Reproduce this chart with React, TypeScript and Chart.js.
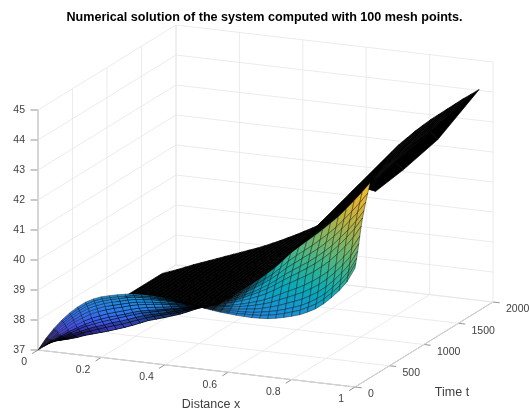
import React, { useEffect, useRef } from "react";
import { Chart, registerables, ScatterController } from "chart.js";

const titleText = "Numerical solution of the system computed with 100 mesh points.";
const xLabel = "Distance x";
const tLabel = "Time t";
const xTicks = [0, 0.2, 0.4, 0.6, 0.8, 1];
const tTicks = [0, 500, 1000, 1500, 2000];
const zTicks = [37, 38, 39, 40, 41, 42, 43, 44, 45];

const xMesh = [0,0.025,0.05,0.075,0.1,0.125,0.15,0.175,0.2,0.225,0.25,0.275,0.3,0.325,0.35,0.375,0.4,0.425,0.45,0.475,0.5,0.525,0.55,0.575,0.6,0.625,0.65,0.675,0.7,0.725,0.75,0.775,0.8,0.825,0.85,0.875,0.9,0.925,0.95,0.975,1];
const tMesh = [0,12,25,40,55,70,90,110,130,155,185,220,300,700,1200,1800];
const zRows = [
[37,37.42,37.78,38.09,38.36,38.59,38.78,38.92,39.02,39.09,39.15,39.2,39.24,39.25,39.26,39.25,39.23,39.2,39.17,39.14,39.09,39.04,39,38.97,38.95,38.93,38.92,38.91,38.92,38.94,38.98,39.04,39.11,39.19,39.31,39.45,39.64,39.88,40.15,40.48,40.96],
[37,37.40,37.74,38.04,38.30,38.52,38.70,38.84,38.94,39.01,39.07,39.12,39.17,39.18,39.20,39.19,39.18,39.16,39.14,39.11,39.07,39.03,39.01,38.99,38.98,38.97,38.98,38.98,39.00,39.04,39.09,39.16,39.24,39.33,39.46,39.60,39.80,40.04,40.31,40.64,41.11],
[37,37.38,37.70,37.98,38.23,38.44,38.62,38.75,38.85,38.93,38.99,39.05,39.10,39.11,39.13,39.13,39.13,39.11,39.10,39.09,39.06,39.03,39.01,39.01,39.01,39.02,39.03,39.05,39.09,39.14,39.20,39.28,39.37,39.47,39.60,39.76,39.95,40.20,40.47,40.80,41.26],
[37,37.35,37.65,37.91,38.15,38.35,38.52,38.64,38.74,38.82,38.88,38.95,39.00,39.02,39.05,39.06,39.06,39.06,39.06,39.05,39.04,39.02,39.02,39.03,39.05,39.07,39.11,39.14,39.20,39.27,39.35,39.45,39.55,39.66,39.80,39.96,40.16,40.41,40.69,41.02,41.47],
[37,37.31,37.59,37.83,38.05,38.24,38.40,38.52,38.62,38.69,38.76,38.83,38.89,38.92,38.95,38.97,38.98,38.99,39.01,39.02,39.01,39.01,39.03,39.06,39.10,39.14,39.19,39.25,39.32,39.41,39.52,39.63,39.75,39.87,40.02,40.19,40.40,40.65,40.93,41.26,41.70],
[37,37.28,37.53,37.75,37.96,38.13,38.28,38.40,38.49,38.57,38.64,38.72,38.78,38.82,38.86,38.89,38.91,38.93,38.96,38.98,38.99,39.01,39.04,39.08,39.14,39.20,39.27,39.35,39.44,39.56,39.69,39.82,39.94,40.08,40.24,40.42,40.63,40.89,41.18,41.50,41.93],
[37,37.24,37.45,37.65,37.83,37.99,38.12,38.23,38.33,38.41,38.49,38.57,38.64,38.69,38.73,38.77,38.81,38.85,38.89,38.93,38.96,39.00,39.05,39.12,39.20,39.29,39.39,39.49,39.61,39.76,39.92,40.06,40.21,40.36,40.53,40.73,40.95,41.22,41.50,41.83,42.23],
[37,37.20,37.38,37.56,37.72,37.86,37.99,38.09,38.19,38.27,38.35,38.44,38.52,38.57,38.62,38.67,38.72,38.77,38.83,38.88,38.93,38.99,39.06,39.15,39.25,39.36,39.48,39.61,39.75,39.92,40.10,40.26,40.42,40.59,40.77,40.98,41.21,41.48,41.77,42.09,42.48],
[37,37.17,37.33,37.48,37.64,37.77,37.88,37.98,38.07,38.16,38.25,38.34,38.42,38.48,38.54,38.60,38.65,38.72,38.79,38.85,38.91,38.98,39.07,39.17,39.29,39.42,39.55,39.70,39.86,40.05,40.25,40.43,40.60,40.77,40.97,41.18,41.41,41.70,41.99,42.31,42.69],
[37,37.13,37.27,37.40,37.53,37.65,37.75,37.84,37.94,38.02,38.11,38.21,38.30,38.37,38.43,38.50,38.57,38.65,38.73,38.80,38.88,38.97,39.08,39.20,39.34,39.49,39.65,39.81,40.00,40.21,40.44,40.63,40.82,41.01,41.21,41.44,41.68,41.96,42.26,42.58,42.94],
[37,37.09,37.20,37.31,37.43,37.53,37.62,37.71,37.80,37.88,37.98,38.08,38.18,38.26,38.33,38.41,38.48,38.58,38.68,38.76,38.85,38.96,39.09,39.23,39.39,39.56,39.74,39.93,40.13,40.37,40.63,40.84,41.04,41.24,41.46,41.69,41.94,42.23,42.53,42.85,43.20],
[37,37.05,37.12,37.20,37.30,37.38,37.46,37.54,37.63,37.72,37.82,37.93,38.04,38.12,38.20,38.29,38.38,38.49,38.61,38.71,38.82,38.95,39.10,39.27,39.45,39.65,39.85,40.07,40.30,40.57,40.85,41.08,41.30,41.52,41.75,42.00,42.25,42.55,42.85,43.17,43.50],
[37,37.05,37.12,37.21,37.31,37.39,37.47,37.55,37.64,37.73,37.83,37.94,38.05,38.13,38.21,38.30,38.40,38.51,38.63,38.73,38.84,38.97,39.13,39.30,39.48,39.69,39.89,40.12,40.36,40.64,40.92,41.15,41.37,41.59,41.82,42.07,42.32,42.61,42.91,43.15,43.10],
[37,37.07,37.14,37.23,37.34,37.42,37.51,37.59,37.69,37.78,37.88,37.99,38.09,38.18,38.28,38.37,38.48,38.59,38.72,38.83,38.95,39.10,39.27,39.45,39.65,39.87,40.09,40.38,40.68,41.00,41.27,41.51,41.74,41.96,42.19,42.42,42.66,42.93,43.20,43.47,43.25],
[37,37.08,37.17,37.27,37.37,37.47,37.56,37.65,37.75,37.84,37.94,38.05,38.15,38.25,38.36,38.46,38.58,38.70,38.83,38.96,39.10,39.26,39.44,39.64,39.85,40.10,40.35,40.71,41.08,41.43,41.72,41.96,42.20,42.43,42.65,42.87,43.09,43.33,43.56,43.80,43.55],
[37,37.10,37.20,37.31,37.42,37.52,37.62,37.72,37.82,37.92,38.02,38.12,38.22,38.33,38.45,38.57,38.70,38.83,38.97,39.11,39.27,39.45,39.65,39.87,40.10,40.37,40.65,41.10,41.55,41.95,42.25,42.50,42.75,42.98,43.20,43.40,43.60,43.80,44.00,44.18,44.37],
];

// Box corners (screen units), used as an affine 3D view.
const originPx = [38, 350];
const xAxisPx = [317, 37];
const tAxisPx = [138, -85];
const zUnitPx = 30;
const project = (x: number, t: number, z: number) => ({
  x: originPx[0] + x * xAxisPx[0] + (t / 2000) * tAxisPx[0],
  y: originPx[1] + x * xAxisPx[1] + (t / 2000) * tAxisPx[1] - (z - 37) * zUnitPx,
});
const depth = (x: number, t: number, z: number) => 0.383 * x - 0.884 * (t / 2000) + 0.0241 * (z - 37);

const parula = [[62,38,168],[72,82,244],[46,130,250],[24,155,226],[8,178,194],[54,190,150],[125,192,110],[190,187,70],[240,190,50],[252,215,40],[249,251,21]];
const colorAt = (v: number) => {
  const c = Math.min(0.9999, Math.max(0, v)) * (parula.length - 1);
  const i = Math.floor(c), f = c - i;
  return parula[i].map((a, k) => a + (parula[i + 1][k] - a) * f);
};

class PolygonController extends ScatterController {
  static id = "polygon";
  static defaults = ScatterController.defaults;
  draw() {
    const pts: any[] = this.getMeta().data as any;
    const ds: any = this.getDataset();
    const ctx = this.chart.ctx;
    ctx.save();
    ctx.beginPath();
    pts.forEach((p, i) => (i ? ctx.lineTo(p.x, p.y) : ctx.moveTo(p.x, p.y)));
    ctx.closePath();
    ctx.fillStyle = ds.faceColor;
    ctx.fill();
    ctx.strokeStyle = ds.edgeColor;
    ctx.lineWidth = 0.7;
    ctx.stroke();
    ctx.restore();
  }
}
Chart.register(...registerables, PolygonController);

const lastColouredRow = 10; // later rows of the real mesh are so dense that they print solid black

function surfaceDatasets() {
  const cells: any[] = [];
  for (let r = 0; r < tMesh.length - 1; r++) {
    for (let c = 0; c < xMesh.length - 1; c++) {
      const corners = [[r, c], [r, c + 1], [r + 1, c + 1], [r + 1, c]].map(([a, b]) => [xMesh[b], tMesh[a], zRows[a][b]]);
      const data = corners.map(([x, t, z]) => project(x, t, z));
      let area = 0;
      data.forEach((p, i) => { const q = data[(i + 1) % 4]; area += p.x * q.y - q.x * p.y; });
      area = Math.abs(area) / 2;
      // the real mesh is denser than this table: dense mesh lines darken the face
      const trueW = 3.2;
      const trueH = area / (2.475 * ((tMesh[r + 1] - tMesh[r]) / 8)) / trueW;
      const shade = r > lastColouredRow ? 0 : 0.95 * Math.min(1, Math.max(0, (trueH - 0.18) / 0.95));
      const mz = corners.reduce((s, k) => s + k[2], 0) / 4;
      const col = colorAt((mz - 37) / 7.4).map((v) => Math.round(v * shade));
      const md = corners.reduce((s, k) => s + depth(k[0], k[1], k[2]), 0) / 4;
      cells.push({ type: "polygon", data, faceColor: `rgb(${col.join(",")})`, edgeColor: shade < 0.15 ? "#000" : "rgba(0,0,0,0.55)", pointRadius: 0, md });
    }
  }
  cells.sort((a, b) => b.md - a.md);
  return cells;
}

const seg = (data: any[], color: string, width: number) => ({ type: "scatter", showLine: true, data, borderColor: color, borderWidth: width, pointRadius: 0, fill: false });

function boxDatasets() {
  const grid = "#e6e6e6", axis = "#666666";
  const out: any[] = [];
  const T = 2000;
  for (const x of xTicks) {
    out.push(seg([project(x, 0, 37), project(x, T, 37)], grid, 0.8));
    out.push(seg([project(x, T, 37), project(x, T, 45)], grid, 0.8));
  }
  for (const t of tTicks) {
    out.push(seg([project(0, t, 37), project(1, t, 37)], grid, 0.8));
    out.push(seg([project(0, t, 37), project(0, t, 45)], grid, 0.8));
  }
  for (const z of zTicks) {
    out.push(seg([project(0, 0, z), project(0, T, z)], grid, 0.8));
    out.push(seg([project(0, T, z), project(1, T, z)], grid, 0.8));
  }
  out.push(seg([project(0, 0, 37), project(1, 0, 37)], axis, 0.7));
  out.push(seg([project(1, 0, 37), project(1, T, 37)], axis, 0.7));
  out.push(seg([project(0, 0, 37), project(0, 0, 45)], "#a8a8a8", 1.2));
  for (const x of xTicks) out.push(seg([project(x, 0, 37), project(x, -85, 37)], axis, 0.7));
  for (const t of tTicks) out.push(seg([project(1, t, 37), project(1.021, t, 37)], axis, 0.7));
  for (const z of zTicks) {
    const p = project(0, 0, z);
    out.push(seg([p, { x: p.x - 7.5, y: p.y }], axis, 0.7));
  }
  return out;
}

const labelPlugin = {
  id: "boxLabels",
  afterDraw(chart: any) {
    const { ctx } = chart;
    const sx = chart.scales.x, sy = chart.scales.y;
    const put = (s: string, x: number, y: number, align: CanvasTextAlign) => {
      ctx.textAlign = align;
      ctx.fillText(s, sx.getPixelForValue(x), sy.getPixelForValue(y));
    };
    ctx.save();
    ctx.textBaseline = "middle";
    ctx.fillStyle = "#404040";
    ctx.font = '10.5px "Liberation Sans"';
    for (const z of zTicks) { const p = project(0, 0, z); put(String(z), p.x - 13, p.y, "right"); }
    for (const x of xTicks) { const p = project(x, 0, 37); put(String(x), p.x - 11, p.y + 12.6, "right"); }
    for (const t of tTicks) { const p = project(1, t, 37); put(String(t), p.x + 13, p.y + 7.5, "left"); }
    ctx.font = '12.5px "Liberation Sans"';
    put(xLabel, 211, 405, "center");
    put(tLabel, 452, 393, "center");
    ctx.restore();
  },
};

export default function App() {
  const ref = useRef<HTMLCanvasElement>(null);
  useEffect(() => {
    const chart = new Chart(ref.current as HTMLCanvasElement, {
      type: "scatter",
      data: { datasets: [...surfaceDatasets(), ...boxDatasets()] as any },
      options: {
        animation: false,
        responsive: false,
        events: [],
        layout: { padding: 0 },
        plugins: {
          legend: { display: false },
          tooltip: { enabled: false },
          title: {
            display: true,
            text: titleText,
            color: "#000",
            font: { family: '"Liberation Sans"', size: 12.6, weight: "bold" },
            padding: { top: 9.9, bottom: 0 },
          },
        },
        scales: {
          x: { type: "linear", min: 0, max: 529, display: false },
          y: { type: "linear", min: 25, max: 410, reverse: true, display: false },
        },
      } as any,
      plugins: [labelPlugin],
    });
    return () => chart.destroy();
  }, []);
  return (
    <div style={{ position: "fixed", left: 0, top: 0, width: 529, height: 410, background: "#fff" }}>
      <canvas ref={ref} width={529} height={410} style={{ display: "block" }} />
    </div>
  );
}
